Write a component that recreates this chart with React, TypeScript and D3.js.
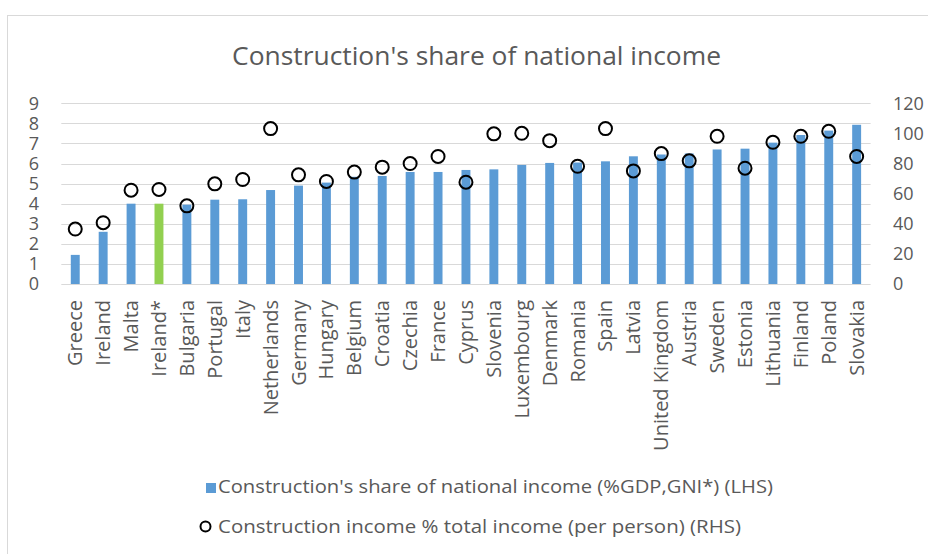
import React, { useEffect, useRef } from 'react';
import * as d3 from 'd3';

// values
const countries = [
  'Greece', 'Ireland', 'Malta', 'Ireland*', 'Bulgaria', 'Portugal', 'Italy', 'Netherlands',
  'Germany', 'Hungary', 'Belgium', 'Croatia', 'Czechia', 'France', 'Cyprus', 'Slovenia',
  'Luxembourg', 'Denmark', 'Romania', 'Spain', 'Latvia', 'United Kingdom', 'Austria',
  'Sweden', 'Estonia', 'Lithuania', 'Finland', 'Poland', 'Slovakia',
];
const shareLHS = [
  1.45, 2.6, 4.0, 4.0, 3.95, 4.2, 4.22, 4.68, 4.9, 5.05, 5.34, 5.38, 5.58, 5.58, 5.68, 5.71,
  5.93, 6.03, 6.05, 6.11, 6.36, 6.45, 6.5, 6.7, 6.74, 7.04, 7.42, 7.64, 7.93,
];
const incomeRHS = [
  36.5, 40.7, 62.3, 62.8, 51.9, 66.5, 69.4, 103.2, 72.5, 68.1, 74.3, 77.6, 80, 84.7, 67.6, 99.7,
  100.1, 95.2, 78.2, 103.2, 75.1, 86.6, 81.8, 98.1, 76.9, 94.1, 98.1, 101.4, 84.7,
];
const leftTicks = [0, 1, 2, 3, 4, 5, 6, 7, 8, 9];
const rightTicks = [0, 20, 40, 60, 80, 100, 120];
const title = "Construction's share of national income";
const legendBar = "Construction's share of national income (%GDP,GNI*) (LHS)";
const legendDot = 'Construction income % total income (per person) (RHS)';

const W = 928;
const H = 554;
const font = "'Open Sans', sans-serif";
const grey = '#595959';

const App = () => {
  const ref = useRef<SVGGElement>(null);

  useEffect(() => {
    const g = d3.select(ref.current);
    g.selectAll('*').remove();

    const x = d3.scaleBand<string>()
      .domain(countries)
      .range([61.3, 870.6])
      .paddingInner(0.68)
      .paddingOuter(0.34);
    const yL = d3.scaleLinear().domain([0, 9]).range([284, 103.3]);
    const yR = d3.scaleLinear().domain([0, 120]).range([284, 103.3]);

    // chart frame (runs off the right and bottom edge)
    g.append('rect')
      .attr('x', 7.5).attr('y', 15.5)
      .attr('width', W + 20).attr('height', H + 20)
      .attr('fill', 'white').attr('stroke', '#d9d9d9');

    g.append('text')
      .attr('x', 476.5).attr('y', 65)
      .attr('text-anchor', 'middle')
      .attr('font-family', font).attr('font-size', 25)
      .attr('fill', grey)
      .attr('textLength', 489).attr('lengthAdjust', 'spacingAndGlyphs')
      .text(title);

    // gridlines
    g.selectAll('.grid')
      .data(leftTicks)
      .enter()
      .append('line')
      .attr('x1', 61.3).attr('x2', 870.6)
      .attr('y1', d => Math.round(yL(d)) + 0.5)
      .attr('y2', d => Math.round(yL(d)) + 0.5)
      .attr('stroke', '#d9d9d9');

    g.selectAll('.lt')
      .data(leftTicks)
      .enter()
      .append('text')
      .attr('x', 39).attr('y', d => yL(d))
      .attr('dy', '0.35em')
      .attr('text-anchor', 'end')
      .attr('font-family', font).attr('font-size', 18)
      .attr('fill', grey)
      .text(d => d);

    g.selectAll('.rt')
      .data(rightTicks)
      .enter()
      .append('text')
      .attr('x', 893).attr('y', d => yR(d))
      .attr('dy', '0.35em')
      .attr('font-family', font).attr('font-size', 18)
      .attr('fill', grey)
      .text(d => d);

    // bars
    g.selectAll('.bar')
      .data(countries)
      .enter()
      .append('rect')
      .attr('x', d => x(d)!)
      .attr('width', x.bandwidth())
      .attr('y', (d, i) => yL(shareLHS[i]))
      .attr('height', (d, i) => yL(0) - yL(shareLHS[i]))
      .attr('fill', d => (d === 'Ireland*' ? '#92d050' : '#5b9bd5'));

    // circles on the right hand scale
    g.selectAll('.dot')
      .data(countries)
      .enter()
      .append('circle')
      .attr('cx', d => x(d)! + x.bandwidth() / 2)
      .attr('cy', (d, i) => yR(incomeRHS[i]))
      .attr('r', 6.5)
      .attr('fill', 'none')
      .attr('stroke', 'black')
      .attr('stroke-width', 2);

    // category labels
    g.selectAll('.cat')
      .data(countries)
      .enter()
      .append('text')
      .attr('transform', d => 'translate(' + (x(d)! + x.bandwidth() / 2) + ',300) rotate(-90)')
      .attr('dy', '0.35em')
      .attr('text-anchor', 'end')
      .attr('font-family', font).attr('font-size', 20)
      .attr('fill', grey)
      .text(d => d);

    // legend
    g.append('rect')
      .attr('x', 206).attr('y', 483).attr('width', 10).attr('height', 10)
      .attr('fill', '#5b9bd5');
    g.append('text')
      .attr('x', 218).attr('y', 493)
      .attr('font-family', font).attr('font-size', 19)
      .attr('fill', grey)
      .attr('textLength', 555).attr('lengthAdjust', 'spacingAndGlyphs')
      .text(legendBar);
    g.append('circle')
      .attr('cx', 205.5).attr('cy', 526.5).attr('r', 5)
      .attr('fill', 'none').attr('stroke', 'black').attr('stroke-width', 2);
    g.append('text')
      .attr('x', 218).attr('y', 533)
      .attr('font-family', font).attr('font-size', 19)
      .attr('fill', grey)
      .attr('textLength', 523).attr('lengthAdjust', 'spacingAndGlyphs')
      .text(legendDot);
  });

  return (
    <svg width={W} height={H} style={{ position: 'absolute', left: 0, top: 0 }}>
      <g ref={ref} />
    </svg>
  );
};

export default App;
